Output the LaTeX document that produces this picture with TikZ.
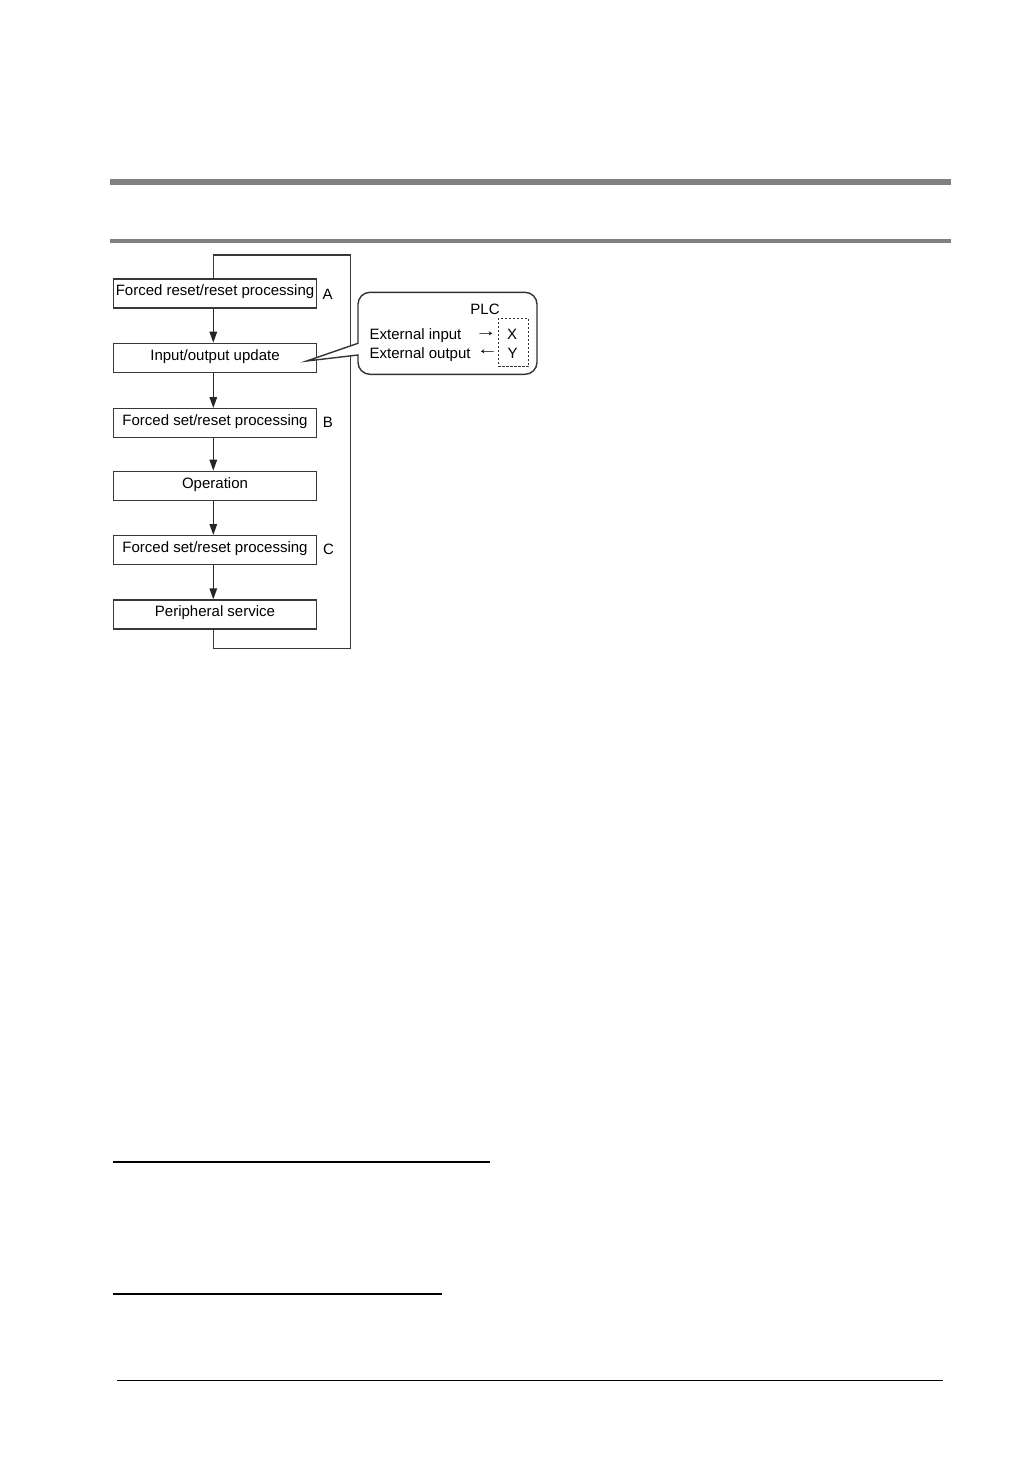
\documentclass[tikz,border=0pt]{standalone}
\usepackage{fontspec}
\setmainfont{Liberation Sans}
\usetikzlibrary{arrows.meta}
\begin{document}
\begin{tikzpicture}[x=1pt,y=-1pt,
  every node/.style={font=\fontsize{15}{18}\selectfont},
  stepbox/.style={draw=black!78, line width=1.4pt, minimum width=203.4pt,
    inner xsep=0pt, inner ysep=0pt, text height=16.7pt, text depth=12.3pt, anchor=north},
  lbl/.style={anchor=base west, inner sep=0pt},
  txt/.style={inner sep=0pt},
  arr/.style={inner sep=0pt, font=\fontsize{16}{16}\selectfont},
  flow/.style={draw=black!85, line width=1.4pt, -{Triangle[length=11pt,width=7.5pt]}},
  loopline/.style={draw=black!78, line width=1.4pt},
  bar/.style={fill=black!50, draw=none},
  rule/.style={draw=black, line width=1.4pt}
]
\useasboundingbox (0,0) rectangle (1032,1458);
\fill[white] (0,0) rectangle (1032,1458);

% header bars
\fill[bar] (110,179) rectangle (951,185);
\fill[bar] (110,239) rectangle (951,243);

% loop coordinates
\coordinate (lt) at (213.3,255);
\coordinate (rt) at (350.7,255);
\coordinate (rb) at (350.7,648.3);
\coordinate (lb) at (213.3,648.3);

% boxes
\node[stepbox] (a) at (215,278.3) {Forced reset/reset processing};
\node[stepbox] (io) at (215,342.7) {Input/output update};
\node[stepbox] (b) at (215,408) {Forced set/reset processing};
\node[stepbox] (op) at (215,470.7) {Operation};
\node[stepbox] (c) at (215,535) {Forced set/reset processing};
\node[stepbox] (ps) at (215,599.3) {Peripheral service};

% labels
\node[lbl] (la) at (322.5,299.3) {A};
\node[lbl] (lbB) at (322.7,427.5) {B};
\node[lbl] (lc) at (323,554.5) {C};

% flow arrows
\draw[flow] (a.south -| lt) -- (io.north -| lt);
\draw[flow] (io.south -| lt) -- (b.north -| lt);
\draw[flow] (b.south -| lt) -- (op.north -| lt);
\draw[flow] (op.south -| lt) -- (c.north -| lt);
\draw[flow] (c.south -| lt) -- (ps.north -| lt);

% return loop
\draw[loopline] (ps.south -| lt) -- (lb) -- (rb) -- (rt) -- (lt) -- (a.north -| lt);

% callout
\draw[draw=black!80, fill=white, line width=1.4pt, line join=miter]
  (358,343.3) -- (358,304.3) arc[start angle=180, end angle=270, radius=12]
  -- (525,292.3) arc[start angle=270, end angle=360, radius=12]
  -- (537,362.3) arc[start angle=0, end angle=90, radius=12]
  -- (370,374.3) arc[start angle=90, end angle=180, radius=12]
  -- (358,355) -- (306.7,361) -- cycle;

\node[draw=black!80, dashed, dash pattern=on 2.2pt off 1.8pt, line width=1.1pt,
  minimum width=30pt, minimum height=48.4pt, inner sep=0pt] (xy) at (513.3,342.5) {};
\node[txt, anchor=base] (plc) at (485,314) {PLC};
\node[txt, anchor=base west] (ein) at (369.5,339.3) {External input};
\node[txt, anchor=base west] (eout) at (369.5,358.3) {External output};
\node[txt, anchor=base] (xx) at (512,339.3) {X};
\node[txt, anchor=base] (yy) at (512.5,358) {Y};
\node[arr] (ar1) at (486,334) {\scalebox{1.35}[1]{→}};
\node[arr] (ar2) at (487.5,352.5) {\scalebox{1.35}[1]{←}};

% bottom rules
\draw[rule] (113,1162) -- (490,1162);
\draw[rule] (113,1294) -- (442,1294);
\draw[rule] (117,1380.3) -- (942.7,1380.3);
\end{tikzpicture}
\end{document}
